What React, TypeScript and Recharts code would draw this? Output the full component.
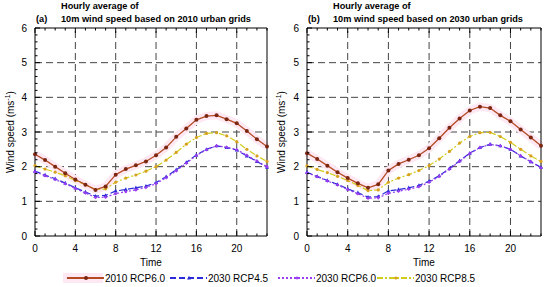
import React from 'react';
import { LineChart, Line, XAxis, YAxis, ReferenceLine } from 'recharts';

const hours = [0, 1, 2, 3, 4, 5, 6, 7, 8, 9, 10, 11, 12, 13, 14, 15, 16, 17, 18, 19, 20, 21, 22, 23];
const xMajor = [0, 4, 8, 12, 16, 20];
const yMajor = [0, 1, 2, 3, 4, 5, 6];
const xGrid = [4, 8, 12, 16, 20];
const yGrid = [1, 2, 3, 4, 5];

// panel (a): 2010 urban grids
const a2010rcp60 = [2.36, 2.19, 2.0, 1.81, 1.63, 1.48, 1.33, 1.43, 1.77, 1.93, 2.04, 2.15, 2.33, 2.55, 2.86, 3.1, 3.35, 3.46, 3.48, 3.37, 3.25, 3.03, 2.79, 2.58];
const a2030rcp45 = [1.87, 1.76, 1.65, 1.53, 1.39, 1.27, 1.15, 1.17, 1.3, 1.34, 1.39, 1.44, 1.54, 1.71, 1.91, 2.12, 2.34, 2.5, 2.6, 2.55, 2.48, 2.31, 2.15, 1.98];
const a2030rcp60 = [1.85, 1.74, 1.63, 1.51, 1.37, 1.24, 1.11, 1.12, 1.22, 1.28, 1.33, 1.4, 1.51, 1.68, 1.88, 2.1, 2.32, 2.49, 2.6, 2.56, 2.49, 2.33, 2.16, 2.0];
const a2030rcp85 = [2.03, 1.93, 1.84, 1.74, 1.6, 1.48, 1.34, 1.36, 1.55, 1.67, 1.76, 1.87, 2.0, 2.19, 2.41, 2.65, 2.84, 2.96, 2.98, 2.89, 2.72, 2.5, 2.31, 2.15];

// panel (b): 2030 urban grids
const b2010rcp60 = [2.39, 2.22, 2.03, 1.84, 1.67, 1.52, 1.39, 1.49, 1.89, 2.08, 2.2, 2.33, 2.53, 2.82, 3.12, 3.39, 3.62, 3.73, 3.69, 3.48, 3.31, 3.07, 2.84, 2.6];
const b2030rcp45 = [1.84, 1.72, 1.6, 1.49, 1.36, 1.25, 1.12, 1.14, 1.3, 1.34, 1.39, 1.46, 1.58, 1.74, 1.95, 2.17, 2.39, 2.55, 2.65, 2.6, 2.5, 2.31, 2.14, 1.98];
const b2030rcp60 = [1.82, 1.71, 1.59, 1.47, 1.34, 1.22, 1.09, 1.1, 1.23, 1.29, 1.35, 1.42, 1.55, 1.72, 1.93, 2.15, 2.38, 2.55, 2.64, 2.6, 2.5, 2.31, 2.14, 1.97];
const b2030rcp85 = [2.02, 1.92, 1.83, 1.72, 1.6, 1.46, 1.31, 1.33, 1.55, 1.67, 1.77, 1.89, 2.03, 2.22, 2.44, 2.68, 2.87, 2.98, 2.99, 2.87, 2.7, 2.5, 2.31, 2.15];

const FONT = '"Liberation Sans", Arial, sans-serif';

const series = [
  { key: 's45', name: '2030 RCP4.5', color: '#2a2ad8', dash: '6 3', marker: 'tri' },
  { key: 's60', name: '2030 RCP6.0', color: '#9a3cf0', dash: '2 2', marker: 'diamond' },
  { key: 's85', name: '2030 RCP8.5', color: '#d2cc1c', dash: '6 2 2 2', marker: 'circle' },
  { key: 's2010', name: '2010 RCP6.0', color: '#b34a22', dash: undefined, marker: 'dot' },
];
const legendOrder = ['s2010', 's45', 's60', 's85'];

const yMinor = Array.from({ length: 31 }, (_, i) => Math.round(i * 2) / 10);

const Marker = ({ cx, cy, type, color }: any) => {
  if (cx == null || cy == null) return null;
  if (type === 'tri') {
    return <path d={`M${cx},${cy - 2.2}L${cx + 2},${cy + 1.5}L${cx - 2},${cy + 1.5}Z`} fill={color} />;
  }
  if (type === 'diamond') {
    return <path d={`M${cx},${cy - 1.8}L${cx + 1.8},${cy}L${cx},${cy + 1.8}L${cx - 1.8},${cy}Z`} fill={color} />;
  }
  if (type === 'circle') {
    return <circle cx={cx} cy={cy} r={1.6} fill="#d8a020" />;
  }
  return <circle cx={cx} cy={cy} r={2} fill="#7a2610" />;
};

const XTick = (props: any) => {
  const { x, y, payload, top } = props;
  const v = payload.value;
  const major = v % 4 === 0;
  const len = major ? 5 : 2.5;
  return (
    <g>
      <line x1={x} x2={x} y1={y} y2={top ? y + len : y - len} stroke="#000" strokeWidth={1} />
      {!top && major && (
        <text x={x} y={y + 16} textAnchor="middle" fontSize={10} fontFamily={FONT} fill="#000">{v}</text>
      )}
    </g>
  );
};

const YTick = (props: any) => {
  const { x, y, payload, right } = props;
  const v = payload.value;
  const major = Math.abs(v - Math.round(v)) < 1e-6;
  const len = major ? 5 : 2.5;
  return (
    <g>
      <line x1={x} x2={right ? x - len : x + len} y1={y} y2={y} stroke="#000" strokeWidth={1} />
      {!right && major && (
        <text x={x - 8} y={y + 3.5} textAnchor="end" fontSize={10} fontFamily={FONT} fill="#000">{Math.round(v)}</text>
      )}
    </g>
  );
};

const Panel = ({ left, yAxisW, rightM, tag, title, d2010, d45, d60, d85 }: any) => {
  const rows = hours.map((h, i) => ({ h, s2010: d2010[i], s45: d45[i], s60: d60[i], s85: d85[i] }));
  const plotL = yAxisW;
  const plotR = 275 - rightM - 1;
  return (
    <div style={{ position: 'absolute', left, top: 0, width: 275, height: 287 }}>
      <LineChart width={275} height={287} data={rows} margin={{ top: 27, right: rightM, left: 0, bottom: 0 }}>
        <XAxis xAxisId="b" dataKey="h" type="number" domain={[0, 23]} ticks={hours} interval={0}
          tick={<XTick />} tickLine={false} tickSize={0} tickMargin={0} height={51} axisLine={{ stroke: '#000' }} />
        <XAxis xAxisId="t" orientation="top" dataKey="h" type="number" domain={[0, 23]} ticks={hours} interval={0}
          tick={<XTick top />} tickLine={false} tickSize={0} tickMargin={0} height={1} axisLine={{ stroke: '#000' }} />
        <YAxis yAxisId="l" type="number" domain={[0, 6]} ticks={yMinor} interval={0}
          tick={<YTick />} tickLine={false} tickSize={0} tickMargin={0} width={yAxisW} axisLine={{ stroke: '#000' }} />
        <YAxis yAxisId="r" orientation="right" type="number" domain={[0, 6]} ticks={yMinor} interval={0}
          tick={<YTick right />} tickLine={false} tickSize={0} tickMargin={0} width={1} axisLine={{ stroke: '#000' }} />
        {xGrid.map((g) => (
          <ReferenceLine key={'x' + g} x={g} xAxisId="b" yAxisId="l" stroke="#444" strokeDasharray="7 4" />
        ))}
        {yGrid.map((g) => (
          <ReferenceLine key={'y' + g} y={g} xAxisId="b" yAxisId="l" stroke="#444" strokeDasharray="7 4" />
        ))}
        <Line xAxisId="b" yAxisId="l" dataKey="s2010" stroke="#fee8f3" strokeWidth={8} dot={false}
          isAnimationActive={false} legendType="none" />
        {series.map((s) => (
          <Line key={s.key} xAxisId="b" yAxisId="l" dataKey={s.key} name={s.name} stroke={s.color}
            strokeWidth={s.key === 's2010' ? 1.3 : 1.2} strokeDasharray={s.dash} type="linear"
            dot={(p: any) => <Marker key={s.key + p.index} cx={p.cx} cy={p.cy} type={s.marker} color={s.color} />}
            activeDot={false} isAnimationActive={false} />
        ))}
      </LineChart>
      <div style={{ position: 'absolute', left: 0, top: 0, width: 275, fontFamily: FONT, fontWeight: 'bold', fontSize: 9.2, lineHeight: '12px', color: '#000' }}>
        <div style={{ position: 'absolute', left: plotL + 26, top: 0, whiteSpace: 'nowrap' }}>Hourly average of</div>
        <div style={{ position: 'absolute', left: plotL + 26, top: 13, whiteSpace: 'nowrap' }}>{title}</div>
        <div style={{ position: 'absolute', left: plotL + 1, top: 13 }}>{tag}</div>
      </div>
      <div style={{ position: 'absolute', left: (plotL + plotR) / 2 - 30, width: 60, top: 257, textAlign: 'center', fontFamily: FONT, fontSize: 10 }}>Time</div>
      <div style={{ position: 'absolute', left: yAxisW === 35 ? 10 : 6, top: 132, width: 0, height: 0 }}>
        <div style={{ position: 'absolute', transform: 'translate(-50%, -50%) rotate(-90deg)', whiteSpace: 'nowrap', fontFamily: FONT, fontSize: 10 }}>
          Wind speed (ms<sup style={{ fontSize: 7 }}>-1</sup>)
        </div>
      </div>
    </div>
  );
};

const LegendBar = () => {
  const starts = [67, 170, 278, 377];
  return (
    <svg width={550} height={16} style={{ position: 'absolute', left: 0, top: 270 }}>
      {legendOrder.map((k, i) => {
        const s = series.find((q) => q.key === k)!;
        const x0 = starts[i];
        const cy = 8;
        return (
          <g key={k}>
            {k === 's2010' && <rect x={x0 - 4} y={cy - 5} width={40} height={10} fill="#fee8f3" />}
            <line x1={x0} x2={x0 + 37} y1={cy} y2={cy} stroke={s.color} strokeWidth={1.8} strokeDasharray={s.dash} />
            <Marker cx={x0 + 19} cy={cy} type={s.marker} color={s.color} />
            <text x={x0 + 38} y={cy + 3.5} fontSize={10} fontFamily={FONT} fill="#000">{s.name}</text>
          </g>
        );
      })}
    </svg>
  );
};

export default function App() {
  return (
    <div style={{ position: 'absolute', left: 0, top: 0, width: 550, height: 287, background: '#fff', overflow: 'hidden' }}>
      <Panel left={0} yAxisW={35} rightM={7} tag="(a)" title="10m wind speed based on 2010 urban grids"
        d2010={a2010rcp60} d45={a2030rcp45} d60={a2030rcp60} d85={a2030rcp85} />
      <Panel left={275} yAxisW={32} rightM={8} tag="(b)" title="10m wind speed based on 2030 urban grids"
        d2010={b2010rcp60} d45={b2030rcp45} d60={b2030rcp60} d85={b2030rcp85} />
      <LegendBar />
    </div>
  );
}
